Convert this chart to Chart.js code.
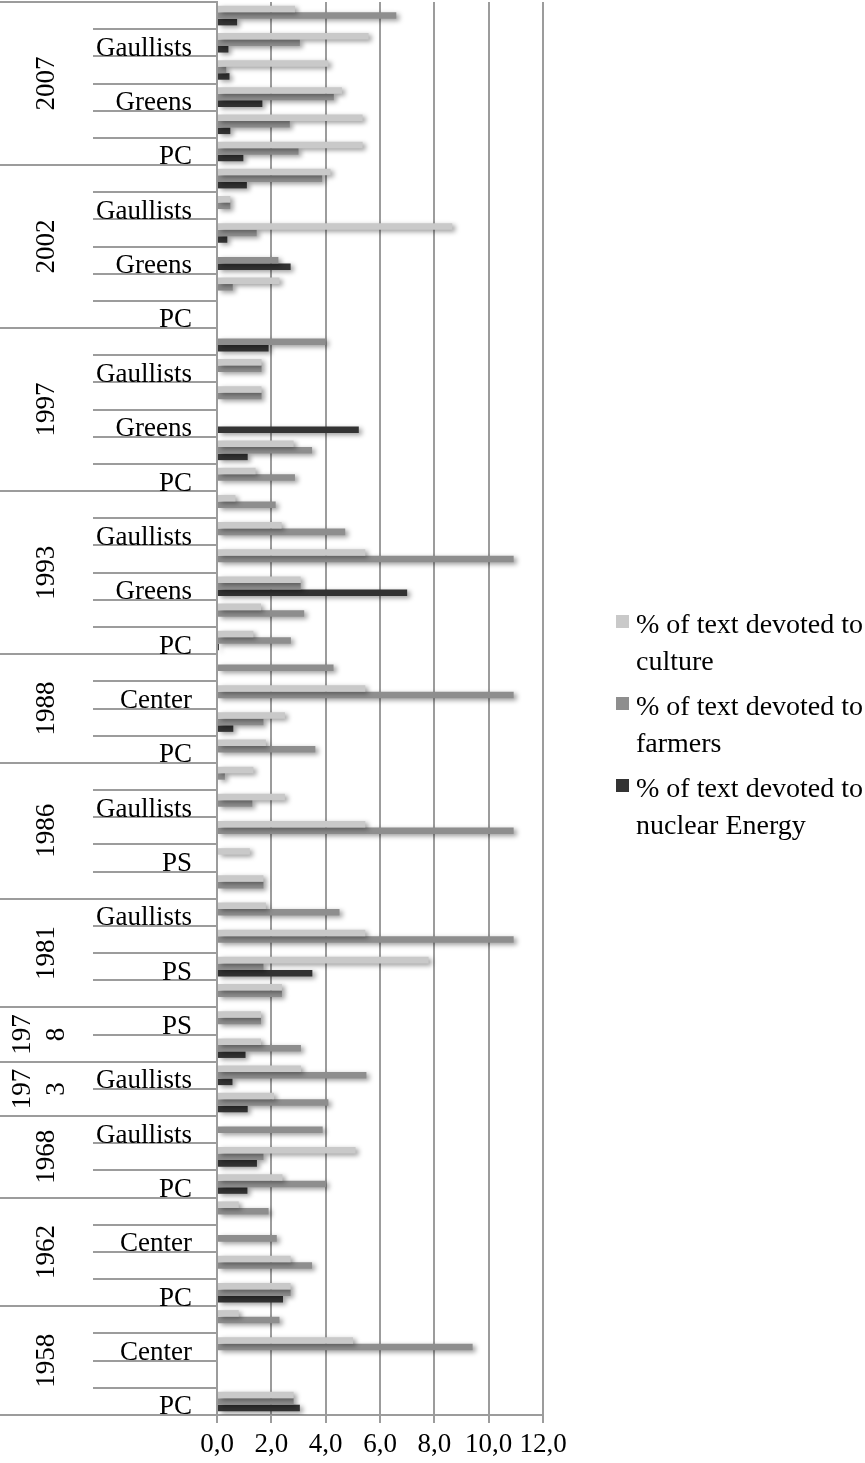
<!DOCTYPE html>
<html>
<head>
<meta charset="utf-8">
<script src="https://cdn.jsdelivr.net/npm/chart.js@4"></script>
<style>
  body { margin: 0; background: #fff; }
  canvas { display: block; }
</style>
</head>
<body>
<canvas id="chart" width="865" height="1463"></canvas>
<script>
// rows are listed top to bottom, grouped by election year
const years = ['2007', '2002', '1997', '1993', '1988', '1986', '1981', '1978', '1973', '1968', '1962', '1958'];
const parties = [
  ['FN', 'Gaullists', 'Center', 'Greens', 'PS', 'PC'],
  ['FN', 'Gaullists', 'Center', 'Greens', 'PS', 'PC'],
  ['FN', 'Gaullists', 'Center', 'Greens', 'PS', 'PC'],
  ['FN', 'Gaullists', 'Center', 'Greens', 'PS', 'PC'],
  ['Gaullists', 'Center', 'PS', 'PC'],
  ['FN', 'Gaullists', 'Center', 'PS', 'PC'],
  ['Gaullists', 'Center', 'PS', 'PC'],
  ['PS', 'PC'],
  ['Gaullists', 'PC'],
  ['Gaullists', 'PS', 'PC'],
  ['Gaullists', 'Center', 'PS', 'PC'],
  ['Gaullists', 'Center', 'PS', 'PC']
];

const culture = [
  2.87, 5.58, 4.1, 4.6, 5.36, 5.36,
  4.18, 0.49, 8.66, 0, 2.3, 0,
  0, 1.64, 1.64, 0, 2.82, 1.42,
  0.68, 2.38, 5.46, 3.08, 1.62, 1.34,
  0, 5.46, 2.5, 1.8,
  1.34, 2.5, 5.46, 1.21, 1.71,
  1.8, 5.46, 7.79, 2.39,
  1.62, 1.62,
  3.09, 2.1,
  0, 5.1, 2.41,
  0.8, 0, 2.71, 2.71,
  0.8, 5.01, 0, 2.82
];
const farmers = [
  6.6, 3.05, 0.34, 4.3, 2.68, 3.0,
  3.87, 0.49, 1.46, 2.26, 0.58, 0,
  4.0, 1.64, 1.64, 0, 3.5, 2.87,
  2.16, 4.72, 10.92, 3.08, 3.21, 2.72,
  4.29, 10.92, 1.71, 3.62,
  0.29, 1.3, 10.92, 0, 1.71,
  4.51, 10.92, 1.71, 2.39,
  1.62, 3.09,
  5.5, 4.1,
  3.89, 1.71, 4.01,
  1.9, 2.2, 3.5, 2.71,
  2.3, 9.41, 0, 2.82
];
const nuclear = [
  0.74, 0.42, 0.46, 1.67, 0.49, 0.97,
  1.1, 0, 0.38, 2.71, 0, 0,
  1.9, 0, 0, 5.22, 1.13, 0,
  0, 0, 0, 7.0, 0, 0.07,
  0, 0, 0.6, 0,
  0, 0, 0, 0, 0,
  0, 0, 3.51, 0,
  0, 1.05,
  0.57, 1.13,
  0, 1.47, 1.12,
  0, 0, 0, 2.43,
  0, 0, 0, 3.05
];

const seriesNames = [
  '% of text devoted to culture',
  '% of text devoted to farmers',
  '% of text devoted to nuclear Energy'
];
const seriesColors = ['#c9c9c9', '#8e8e8e', '#333333'];
const xTickLabels = ['0,0', '2,0', '4,0', '6,0', '8,0', '10,0', '12,0'];

const FONT_FAMILY = '"Liberation Serif", "Times New Roman", serif';
const FONT_SIZE = 27;
const LINE = '#9c9c9c';

// flatten the two level axis
const categories = [];
const yearOfRow = [];
years.forEach((year, k) => {
  parties[k].forEach(p => {
    categories.push(p);
    yearOfRow.push(k);
  });
});

// soft drop shadow like the office one
const barShadow = {
  id: 'barShadow',
  beforeDatasetsDraw(chart) {
    const ctx = chart.ctx;
    ctx.save();
    ctx.shadowColor = 'rgba(0,0,0,0.4)';
    ctx.shadowBlur = 5;
    ctx.shadowOffsetX = 3;
    ctx.shadowOffsetY = 2;
  },
  afterDatasetsDraw(chart) {
    chart.ctx.restore();
  }
};

// party + year labels with their separator lines
const groupAxis = {
  id: 'groupAxis',
  afterDraw(chart) {
    const ctx = chart.ctx;
    const area = chart.chartArea;
    const yScale = chart.scales.y;
    const n = categories.length;
    const h = (area.bottom - area.top) / n;
    const innerLeft = 93;

    ctx.save();
    ctx.strokeStyle = LINE;
    ctx.lineWidth = 2;
    for (let i = 0; i <= n; i++) {
      const y = Math.round(area.top + i * h);
      const outer = i === 0 || i === n || yearOfRow[i] !== yearOfRow[i - 1];
      ctx.beginPath();
      ctx.moveTo(outer ? 0 : innerLeft, y);
      ctx.lineTo(area.left, y);
      ctx.stroke();
    }

    ctx.fillStyle = '#000';
    ctx.font = FONT_SIZE + 'px ' + FONT_FAMILY;
    ctx.textAlign = 'right';
    ctx.textBaseline = 'alphabetic';
    categories.forEach((name, i) => {
      if ((n - 1 - i) % 2) return; // every second label only
      ctx.fillText(name, area.left - 25, yScale.getPixelForValue(i) + 13);
    });

    ctx.textAlign = 'center';
    ctx.textBaseline = 'middle';
    let start = 0;
    years.forEach((year, k) => {
      const count = parties[k].length;
      const y0 = area.top + start * h;
      const y1 = area.top + (start + count) * h;
      start += count;
      let lines = [year];
      if (ctx.measureText(year).width > y1 - y0 - 6) {
        lines = [year.slice(0, 3), year.slice(3)];
      }
      ctx.save();
      ctx.translate(lines.length > 1 ? 40 : 47, (y0 + y1) / 2);
      ctx.rotate(-Math.PI / 2);
      lines.forEach((t, j) => {
        ctx.fillText(t, 0, (j - (lines.length - 1) / 2) * 34);
      });
      ctx.restore();
    });
    ctx.restore();
  }
};

function wrapText(ctx, text, maxWidth) {
  const words = text.split(' ');
  const lines = [];
  let line = '';
  words.forEach(w => {
    const test = line ? line + ' ' + w : w;
    if (line && ctx.measureText(test).width > maxWidth) {
      lines.push(line);
      line = w;
    } else {
      line = test;
    }
  });
  if (line) lines.push(line);
  return lines;
}

const sideLegend = {
  id: 'sideLegend',
  afterDraw(chart) {
    const ctx = chart.ctx;
    const textX = 636;
    ctx.save();
    ctx.font = '28px ' + FONT_FAMILY;
    ctx.textAlign = 'left';
    ctx.textBaseline = 'alphabetic';
    chart.data.datasets.forEach((ds, i) => {
      const base = 633 + i * 82;
      ctx.fillStyle = ds.backgroundColor;
      ctx.fillRect(616, base - 18, 13, 13);
      ctx.fillStyle = '#000';
      wrapText(ctx, ds.label, chart.width - textX - 1).forEach((t, j) => {
        ctx.fillText(t, textX, base + j * 37);
      });
    });
    ctx.restore();
  }
};

new Chart(document.getElementById('chart'), {
  type: 'bar',
  data: {
    labels: categories,
    datasets: [
      { label: seriesNames[0], data: culture, backgroundColor: seriesColors[0] },
      { label: seriesNames[1], data: farmers, backgroundColor: seriesColors[1] },
      { label: seriesNames[2], data: nuclear, backgroundColor: seriesColors[2] }
    ]
  },
  options: {
    indexAxis: 'y',
    responsive: false,
    animation: false,
    layout: { padding: { top: 2, right: 322, left: 0, bottom: 0 } },
    datasets: { bar: { categoryPercentage: 0.72, barPercentage: 1 } },
    plugins: {
      legend: { display: false },
      tooltip: { enabled: false }
    },
    scales: {
      x: {
        min: 0,
        max: 12,
        ticks: {
          stepSize: 2,
          autoSkip: false,
          maxRotation: 0,
          padding: 6,
          color: '#000',
          font: { family: FONT_FAMILY, size: FONT_SIZE },
          callback: (v, i) => xTickLabels[i]
        },
        grid: { color: LINE, lineWidth: 2, tickLength: 8 },
        border: { color: LINE, width: 2 },
        afterFit: s => { s.height = 48; }
      },
      y: {
        ticks: { display: false },
        grid: { display: false },
        border: { color: LINE, width: 2 },
        afterFit: s => { s.width = 217; }
      }
    }
  },
  plugins: [barShadow, groupAxis, sideLegend]
});
</script>
</body>
</html>
